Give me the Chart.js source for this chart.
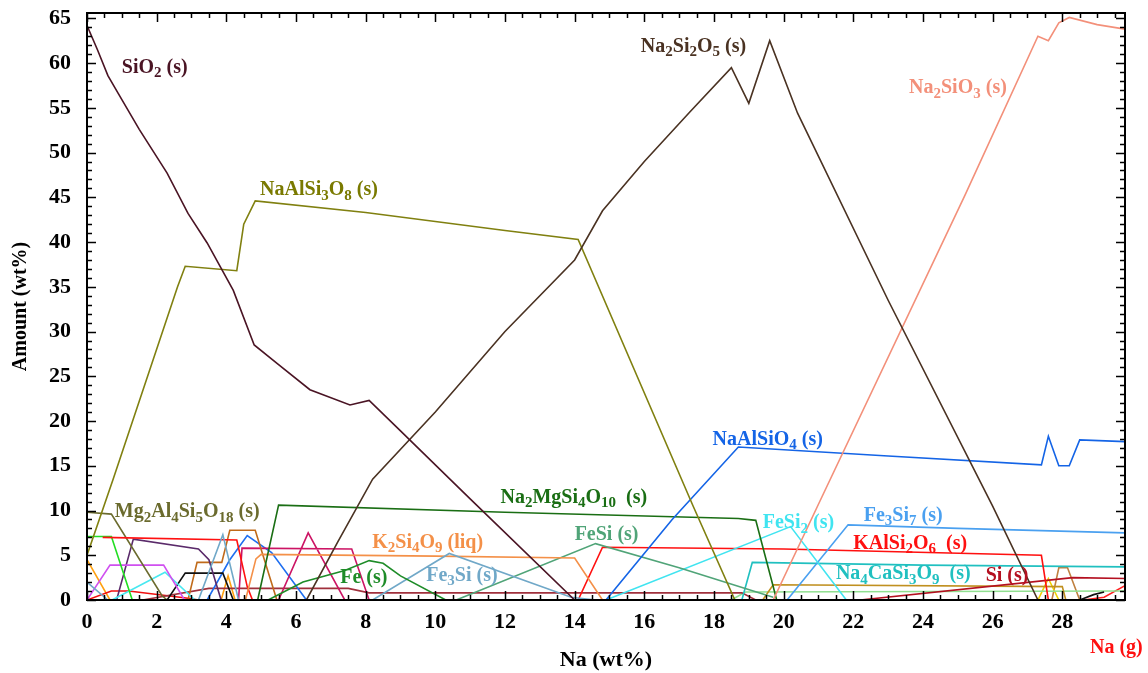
<!DOCTYPE html>
<html>
<head>
<meta charset="utf-8">
<script src="https://cdn.jsdelivr.net/npm/chart.js@4.4.0/dist/chart.umd.min.js"></script>
<style>
  body { margin: 0; background: #fff; }
  canvas { display: block; }
</style>
</head>
<body>
<canvas id="grafico" width="1148" height="673"></canvas>
<script>
// Valores: [Na wt%, cantidad wt%]
const sio2 = [[0, 64.2], [0.3, 61.5], [0.6, 58.6], [0.9, 56.6], [1.5, 52.6], [2.3, 47.7], [2.9, 43.2], [3.45, 39.9], [4.2, 34.6], [4.8, 28.5], [5.5, 26.3], [6.4, 23.5], [7.55, 21.8], [8.1, 22.3], [9, 18.9], [11, 11.3], [14, 0]];
const na2si2o5 = [[6.3, 0], [7.2, 6.5], [8.2, 13.5], [10, 21], [12, 30], [14, 38], [14.8, 43.5], [16, 49], [17.3, 54.5], [18.5, 59.5], [19, 55.5], [19.6, 62.5], [20.4, 54.4], [23, 33.5], [26, 10.5], [27.3, 0]];
const naalsi3o8 = [[0, 5], [0.75, 13.5], [2.6, 35], [2.82, 37.3], [4.3, 36.8], [4.5, 42], [4.83, 44.6], [8, 43.3], [12, 41.3], [14.1, 40.3], [17.4, 10.5], [18.6, 0]];
const na2sio3 = [[19.7, 0], [21.06, 11.2], [25.2, 45.2], [27.3, 63], [27.6, 62.5], [27.9, 64.5], [28.2, 65.1], [29, 64.3], [29.8, 63.8]];
const naalsio4 = [[14.9, 0], [16.8, 9], [18.7, 17.1], [23, 16.1], [27.4, 15.1], [27.6, 18.3], [27.9, 15], [28.2, 15], [28.5, 17.9], [29.8, 17.7]];
const na2mgsi4o10 = [[4.9, 0], [5.5, 10.6], [12, 9.8], [18.7, 9.1], [19.2, 8.9], [19.7, 1.5], [19.8, 0]];
const fe = [[5.2, 0], [6.2, 2], [7.4, 3.3], [8.1, 4.4], [8.5, 4.1], [9, 2.7], [10.3, 0]];
const fe3si = [[0, 2], [0.6, 0], [null, null], [3.2, 0], [3.9, 7.3], [4.35, 0], [null, null], [8.2, 0], [10.4, 5.2], [13.9, 0.3], [14.6, 0]];
const k2si4o9 = [[4.55, 0], [4.85, 4.6], [5, 5.1], [10, 4.9], [14, 4.7], [14.8, 0]];
const fesi = [[10.6, 0], [14.6, 6.3], [17, 3.6], [19.7, 0.3]];
const fesi2 = [[14.9, 0], [20.2, 8.2], [21.8, 0]];
const fe3si7 = [[20.1, 0], [21.85, 8.4], [25, 8], [29.8, 7.5]];
const kalsi2o6 = [[0.45, 7], [4.3, 6.7], [4.6, 1.5], [4.75, 0], [null, null], [14.1, 0], [14.8, 5.9], [20, 5.7], [27.4, 5], [27.6, 0]];
const na4casi3o9 = [[18.8, 0], [19.1, 4.2], [24, 3.9], [29.8, 3.7]];
const si = [[22.2, 0], [28.3, 2.5], [29.8, 2.4]];
const mg2al4si5o18 = [[0, 9.8], [0.7, 9.6], [2.15, 0.5], [2.3, 0]];
const verdeClaro = [[0, 7.1], [0.7, 7.1], [1.3, 0]];
const violeta = [[0, 0], [0.66, 3.9], [2.2, 3.9], [2.8, 0]];
const cian = [[0.72, 0], [2.24, 3.1], [3.1, 0]];
const purpura = [[0.85, 0], [1.33, 6.8], [3.2, 5.7], [3.5, 4.5], [3.85, 0]];
const negro = [[2.3, 0], [2.82, 3], [3.9, 3], [4.2, 0], [null, null], [28.5, 0], [28.9, 0.6], [29.2, 0.9]];
const ocre = [[2.9, 0], [3.16, 4.2], [3.87, 4.2], [4.1, 7.8], [4.83, 7.8], [5.45, 0]];
const carmesi = [[4.35, 0], [4.45, 5.8], [7.6, 5.7], [8.1, 0], [null, null], [5.5, 0], [6.35, 7.5], [7.4, 0]];
const azul2 = [[3.45, 0], [4.1, 4.5], [4.6, 7.2], [5.3, 5.3], [6.3, 0]];
const granate = [[1.6, 0], [3.5, 1.3], [7.5, 1.3], [8.1, 0.8], [18.8, 0.8], [19.2, 0]];
const rojoBajo = [[0, 0], [0.7, 1], [1.2, 1], [2.9, 0.2], [3.2, 0]];
const ambar = [[0, 4.5], [0.66, 0], [null, null], [3.85, 0], [4.05, 2.7], [4.25, 0]];
const dorado = [[19.4, 0], [19.7, 1.7], [28, 1.5], [28.1, 0]];
const verdePalido = [[18.5, 0], [18.9, 0.9], [29.8, 1]];
const amarillo = [[27.3, 0], [27.6, 2.4], [27.9, 0]];
const marronClaro = [[27.7, 0], [27.9, 3.6], [28.15, 3.6], [28.5, 0]];
const naGas = [[28.6, 0], [29.2, 0.3], [29.8, 1.6]];

const xTicks = [0, 2, 4, 6, 8, 10, 12, 14, 16, 18, 20, 22, 24, 26, 28];
const yTicks = [0, 5, 10, 15, 20, 25, 30, 35, 40, 45, 50, 55, 60, 65];

// Series con su color
const series = [
  [sio2, '#4a1424'], [na2si2o5, '#4a3222'], [naalsi3o8, '#808010'], [na2sio3, '#f3907a'],
  [naalsio4, '#1464e6'], [na2mgsi4o10, '#1a6e14'], [fe, '#1e8c28'], [fe3si, '#70a8c8'],
  [k2si4o9, '#f49048'], [fesi, '#50a478'], [fesi2, '#40e4f0'], [fe3si7, '#4aa0f0'],
  [kalsi2o6, '#ff1010'], [na4casi3o9, '#20c0c0'], [si, '#b41020'], [mg2al4si5o18, '#6b6b2e'],
  [verdeClaro, '#22dd22'], [violeta, '#d050f0'], [cian, '#48e8f0'], [purpura, '#5a2a6a'],
  [negro, '#111111'], [ocre, '#c06a1a'], [carmesi, '#cc1464'], [azul2, '#1e6ef0'],
  [granate, '#a0303c'], [rojoBajo, '#f01010'], [ambar, '#ffa010'], [dorado, '#c09020'],
  [verdePalido, '#90e090'], [amarillo, '#f0d000'], [marronClaro, '#c08040'], [naGas, '#ff2020'],
];

// Etiquetas: {n} = subíndice; x = borde izquierdo, y = centro (unidades de datos)
const etiquetas = [
  { t: 'SiO{2} (s)', x: 1.0, y: 59.5, c: '#4a1424' },
  { t: 'Na{2}Si{2}O{5} (s)', x: 15.9, y: 61.8, c: '#4a3222' },
  { t: 'Na{2}SiO{3} (s)', x: 23.6, y: 57.2, c: '#f3907a' },
  { t: 'NaAlSi{3}O{8} (s)', x: 4.97, y: 45.8, c: '#7a7a00' },
  { t: 'NaAlSiO{4} (s)', x: 17.96, y: 17.9, c: '#1464e6' },
  { t: 'Mg{2}Al{4}Si{5}O{18} (s)', x: 0.8, y: 9.8, c: '#6b6b2e' },
  { t: 'Na{2}MgSi{4}O{10}  (s)', x: 11.87, y: 11.4, c: '#1a6e14' },
  { t: 'K{2}Si{4}O{9} (liq)', x: 8.19, y: 6.4, c: '#f49048' },
  { t: 'FeSi (s)', x: 14.0, y: 7.3, c: '#50a478' },
  { t: 'FeSi{2} (s)', x: 19.4, y: 8.6, c: '#40e4f0' },
  { t: 'Fe{3}Si{7} (s)', x: 22.3, y: 9.4, c: '#4aa0f0' },
  { t: 'KAlSi{2}O{6}  (s)', x: 22.0, y: 6.3, c: '#ff1010' },
  { t: 'Na{4}CaSi{3}O{9}  (s)', x: 21.5, y: 2.9, c: '#20c0c0' },
  { t: 'Si (s)', x: 25.8, y: 2.7, c: '#b41020' },
  { t: 'Fe (s)', x: 7.27, y: 2.5, c: '#1e8c28' },
  { t: 'Fe{3}Si (s)', x: 9.74, y: 2.7, c: '#70a8c8' },
];

const fuente = '"Liberation Serif", "DejaVu Serif", serif';

function dibujarQuimica(ctx, txt, px, py, size) {
  let cx = px;
  txt.split(/(\{[^}]*\})/).forEach(p => {
    if (!p) return;
    if (p[0] === '{') {
      const s = p.slice(1, -1);
      ctx.font = `bold ${Math.round(size * 0.75)}px ${fuente}`;
      ctx.fillText(s, cx, py + size * 0.28);
      cx += ctx.measureText(s).width;
    } else {
      ctx.font = `bold ${size}px ${fuente}`;
      ctx.fillText(p, cx, py);
      cx += ctx.measureText(p).width;
    }
  });
}

// Marco, marcas hacia dentro en los cuatro lados, etiquetas y títulos
const marco = {
  id: 'marco',
  afterDatasetsDraw(chart) {
    const { ctx, chartArea: a, scales: { x, y } } = chart;
    ctx.save();
    ctx.strokeStyle = '#000';
    ctx.lineWidth = 1.5;
    for (let i = 0; i * 0.5 <= x.max; i++) {
      const px = Math.round(x.getPixelForValue(i * 0.5)) + 0.5;
      const len = i % 4 === 0 ? 9 : 5;
      ctx.beginPath();
      ctx.moveTo(px, a.bottom); ctx.lineTo(px, a.bottom - len);
      ctx.moveTo(px, a.top); ctx.lineTo(px, a.top + len);
      ctx.stroke();
    }
    for (let i = 0; i <= y.max; i++) {
      const py = Math.round(y.getPixelForValue(i)) + 0.5;
      const len = i % 5 === 0 ? 9 : 5;
      ctx.beginPath();
      ctx.moveTo(a.left, py); ctx.lineTo(a.left + len, py);
      ctx.moveTo(a.right, py); ctx.lineTo(a.right - len, py);
      ctx.stroke();
    }
    ctx.lineWidth = 2;
    ctx.strokeRect(a.left, a.top, a.right - a.left, a.bottom - a.top);

    ctx.textBaseline = 'middle';
    ctx.textAlign = 'left';
    etiquetas.forEach(e => {
      ctx.fillStyle = e.c;
      dibujarQuimica(ctx, e.t, x.getPixelForValue(e.x), y.getPixelForValue(e.y), 20);
    });

    ctx.fillStyle = '#ff1010';
    ctx.font = `bold 20px ${fuente}`;
    ctx.fillText('Na (g)', a.right - 35, a.bottom + 48);

    ctx.fillStyle = '#000';
    ctx.textAlign = 'center';
    ctx.font = `bold 22px ${fuente}`;
    ctx.fillText('Na (wt%)', (a.left + a.right) / 2, a.bottom + 60);
    ctx.translate(21, (a.top + a.bottom) / 2);
    ctx.rotate(-Math.PI / 2);
    ctx.font = `bold 20px ${fuente}`;
    ctx.fillText('Amount (wt%)', 0, 0);
    ctx.restore();
  }
};

new Chart(document.getElementById('grafico'), {
  type: 'scatter',
  data: {
    datasets: series.map(([pts, color]) => ({
      data: pts.map(([vx, vy]) => ({ x: vx, y: vy })),
      borderColor: color,
      backgroundColor: color,
      borderWidth: 1.6,
      showLine: true,
      spanGaps: false,
      pointRadius: 0,
      tension: 0,
    })),
  },
  options: {
    responsive: false,
    animation: false,
    layout: { padding: { left: 0, top: 13, right: 23, bottom: 0 } },
    plugins: { legend: { display: false }, tooltip: { enabled: false } },
    scales: {
      x: {
        type: 'linear', min: 0, max: 29.8,
        grid: { display: false }, border: { display: false },
        afterBuildTicks: s => { s.ticks = xTicks.map(v => ({ value: v })); },
        afterFit: s => { s.height = 73; s.paddingLeft = 0; s.paddingRight = 0; },
        ticks: { padding: 1, color: '#000', maxRotation: 0, font: { family: fuente, size: 22, weight: 'bold' } },
      },
      y: {
        type: 'linear', min: 0, max: 65.6,
        grid: { display: false }, border: { display: false },
        afterBuildTicks: s => { s.ticks = yTicks.map(v => ({ value: v })); },
        afterFit: s => { s.width = 87; s.paddingTop = 0; s.paddingBottom = 0; },
        ticks: { padding: 8, color: '#000', font: { family: fuente, size: 22, weight: 'bold' } },
      },
    },
  },
  plugins: [marco],
});
</script>
</body>
</html>
